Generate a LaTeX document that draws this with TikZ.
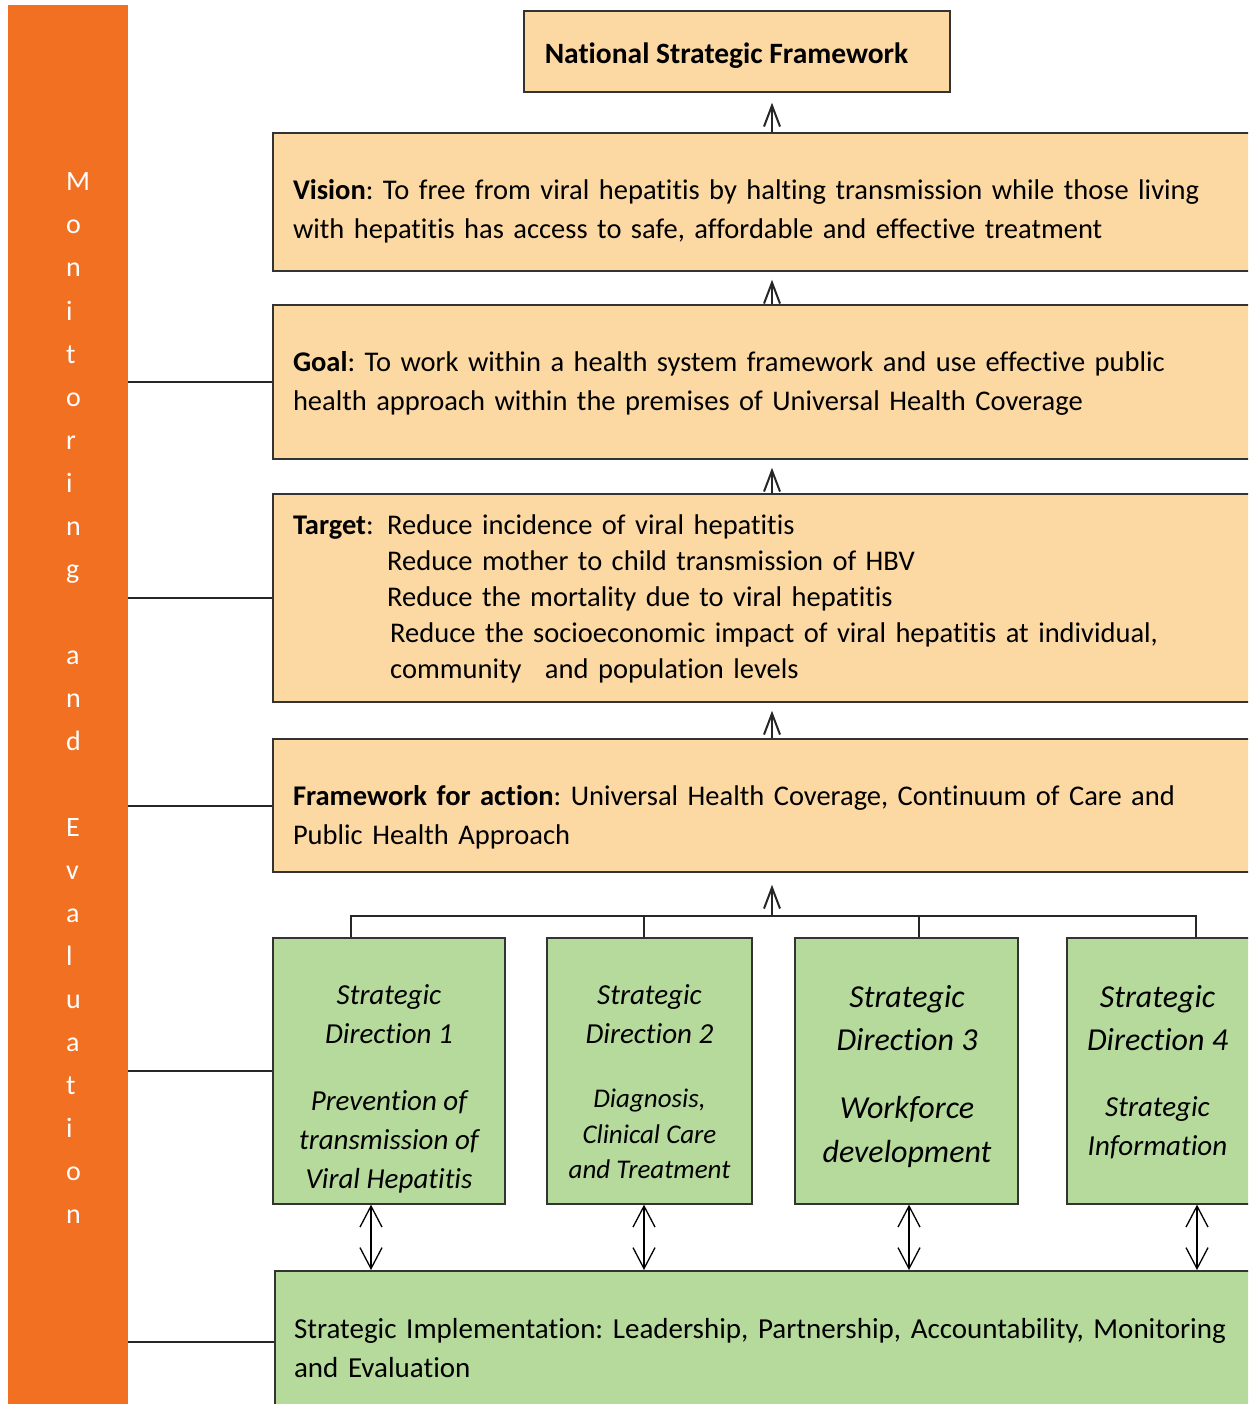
\documentclass[tikz,border=0pt]{standalone}
\usepackage{fontspec}
\setmainfont{Carlito}[Ligatures=NoCommon]
\frenchspacing
\usetikzlibrary{arrows.meta}

\definecolor{peach}{RGB}{252,216,162}
\definecolor{leaf}{RGB}{182,218,156}
\definecolor{barorange}{RGB}{242,112,34}

\tikzset{
  pbox/.style={draw=black!80, line width=1.5pt, fill=peach, inner sep=0pt},
  gbox/.style={draw=black!80, line width=1.3pt, fill=leaf, inner sep=0pt},
  btext/.style={inner sep=0pt, text width=958pt, align=left, font=\fontsize{28.5}{39}\selectfont},
  sdtext/.style={anchor=north, inner sep=0pt, align=center},
  uparr/.style={-{Straight Barb[length=21pt,width=16pt,line width=2pt]},
    line width=2pt, draw=black!85, shorten >=8pt},
  dblarr/.style={{Straight Barb[length=21pt,width=22pt,line width=1.3pt]}-{Straight Barb[length=21pt,width=22pt,line width=1.3pt]},
    line width=1.3pt},
  link/.style={line width=2pt, draw=black!85}
}

\begin{document}
\begin{tikzpicture}[x=1pt,y=-1pt]
\useasboundingbox (0,0) rectangle (1248,1404);
\clip (0,0) rectangle (1248,1404);

% monitoring bar
\node[fill=barorange, anchor=north west, minimum width=120pt, minimum height=1405pt, inner sep=0pt] (bar) at (8,5) {};
\foreach \ch [count=\i] in {M,o,n,i,t,o,r,i,n,g,{},a,n,d,{},E,v,a,l,u,a,t,i,o,n}
  \node[anchor=base west, inner sep=0pt, text=white, font=\fontsize{28}{30}\selectfont] (me\i) at (66,{148+43*\i}) {\ch};

% framework boxes
\node[pbox, minimum width=426pt, minimum height=81pt] (nsf) at (737,51.5) {};
\node[inner sep=0pt, font=\bfseries\fontsize{29.5}{39}\selectfont] (nsftxt) at (726.5,56) {National Strategic Framework};

\node[pbox, minimum width=998pt, minimum height=138pt] (vision) at (772,202) {};
\node[btext] (visiontxt) at ([yshift=-9.5pt]vision.center)
  {\textbf{Vision}: To free from viral hepatitis by halting transmission while those living\\
   with hepatitis has access to safe, affordable and effective treatment};

\node[pbox, minimum width=998pt, minimum height=154pt] (goal) at (772,382) {};
\node[btext] (goaltxt) at ([yshift=-1.5pt]goal.center)
  {\textbf{Goal}: To work within a health system framework and use effective public\\
   health approach within the premises of Universal Health Coverage};

\node[pbox, minimum width=998pt, minimum height=208pt] (target) at (772,598) {};
\node[btext, font=\fontsize{28.5}{36}\selectfont] (targettxt) at ([yshift=-0.5pt]target.center)
  {\textbf{Target}: \hspace*{4pt}Reduce incidence of viral hepatitis\\
   \hphantom{\textbf{Target}: }\hspace*{4pt}Reduce mother to child transmission of HBV\\
   \hphantom{\textbf{Target}: }\hspace*{4pt}Reduce the mortality due to viral hepatitis\\
   \hphantom{\textbf{Target}: }\hspace*{7pt}Reduce the socioeconomic impact of viral hepatitis at individual,\\
   \hphantom{\textbf{Target}: }\hspace*{7pt}community\hspace{14pt} and population levels};

\node[pbox, minimum width=998pt, minimum height=133pt] (frame) at (772,805.5) {};
\node[btext] (frametxt) at ([yshift=-12pt]frame.center)
  {\textbf{Framework for action}: Universal Health Coverage, Continuum of Care and\\
   Public Health Approach};

% strategic directions
\node[gbox, minimum width=232pt, minimum height=266pt] (sd1) at (389,1071) {};
\node[gbox, minimum width=205pt, minimum height=266pt] (sd2) at (649.5,1071) {};
\node[gbox, minimum width=223pt, minimum height=266pt] (sd3) at (906.5,1071) {};
\node[gbox, minimum width=183pt, minimum height=266pt] (sd4) at (1158.5,1071) {};

\node[sdtext, font=\itshape\fontsize{29}{39}\selectfont] (sd1a) at (389,984) {Strategic\\Direction 1};
\node[sdtext, font=\itshape\fontsize{29}{39}\selectfont] (sd1b) at (389,1090) {Prevention of\\transmission of\\Viral Hepatitis};
\node[sdtext, font=\itshape\fontsize{29}{39}\selectfont] (sd2a) at (649.5,984) {Strategic\\Direction 2};
\node[sdtext, font=\itshape\fontsize{27}{35.5}\selectfont] (sd2b) at (649.5,1089) {Diagnosis,\\Clinical Care\\and Treatment};
\node[sdtext, font=\itshape\fontsize{32}{43}\selectfont] (sd3a) at (907,985) {Strategic\\Direction 3};
\node[sdtext, font=\itshape\fontsize{32}{44}\selectfont] (sd3b) at (907,1096.5) {Workforce\\development};
\node[sdtext, font=\itshape\fontsize{32}{43}\selectfont] (sd4a) at (1157.5,985) {Strategic\\Direction 4};
\node[sdtext, font=\itshape\fontsize{29}{39}\selectfont] (sd4b) at (1157.5,1096.5) {Strategic\\Information};

% implementation
\node[gbox, line width=2pt, minimum width=996pt, minimum height=142pt] (impl) at (773,1342) {};
\node[btext, font=\fontsize{29}{39}\selectfont] (impltxt) at ([yshift=-6.5pt]impl.center)
  {Strategic Implementation: Leadership, Partnership, Accountability, Monitoring\\
   and Evaluation};

% arrows up the chain
\draw[uparr, shorten >=10pt] (vision.north) -- (nsf.south -| vision.north);
\draw[uparr] (goal.north) -- (vision.south);
\draw[uparr] (target.north) -- (goal.south);
\draw[uparr] (frame.north) -- (target.south);
\coordinate (hub) at ([yshift=-43pt]frame.south);
\draw[uparr, shorten >=12pt] (hub) -- (frame.south);

% bracket over the directions
\draw[link] ([xshift=-38pt]sd1.north) |- (hub) -| ([xshift=37.5pt]sd4.north);
\draw[link] ([xshift=-5.5pt]sd2.north) -- ([xshift=-5.5pt]sd2.north |- hub);
\draw[link] ([xshift=12.5pt]sd3.north) -- ([xshift=12.5pt]sd3.north |- hub);

% two-way arrows to implementation
\draw[dblarr] ([xshift=-18pt]sd1.south) -- ([xshift=-18pt]sd1.south |- impl.north);
\draw[dblarr] ([xshift=-5.5pt]sd2.south) -- ([xshift=-5.5pt]sd2.south |- impl.north);
\draw[dblarr] ([xshift=2.5pt]sd3.south) -- ([xshift=2.5pt]sd3.south |- impl.north);
\draw[dblarr] ([xshift=38.5pt]sd4.south) -- ([xshift=38.5pt]sd4.south |- impl.north);

% links from the monitoring bar
\draw[link] (bar.east |- goal.west) -- (goal.west);
\draw[link] (bar.east |- target.west) -- (target.west);
\draw[link] (bar.east |- frame.west) -- (frame.west);
\draw[link] (bar.east |- sd1.west) -- (sd1.west);
\draw[link] (bar.east |- impl.west) -- (impl.west);
\end{tikzpicture}
\end{document}
